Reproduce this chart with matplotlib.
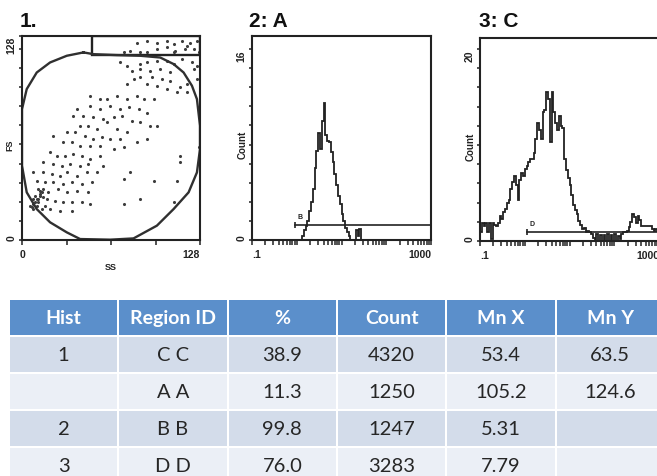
import matplotlib
matplotlib.use('Agg')

import numpy as np
import matplotlib.pyplot as plt
from matplotlib.patches import Rectangle
from matplotlib.ticker import MultipleLocator, LogLocator, NullFormatter

W, H = 657, 477
INK = '#222222'
AX_FONT = 'Liberation Sans'

# panel 1: SS / FS dot plot
ss_vals = [82.6, 89.8, 97.0, 104.2, 109.0, 115.0, 121.0, 125.8, 97.0, 104.2, 110.2, 117.4, 123.4, 89.8, 73.0, 77.8, 85.0, 109.0, 118.6, 127.0,
           70.6, 75.4, 85.0, 89.8, 97.0, 104.2, 109.0, 115.0, 122.2, 125.8, 79.0, 85.0, 92.2, 99.4, 106.6, 85.0, 93.4, 100.6, 106.6, 113.8,
           118.6, 80.2, 75.4, 89.8, 97.0, 104.2, 111.4, 118.6, 123.4, 125.8,
           49.0, 56.2, 61.0, 68.2, 75.4, 82.6, 87.4, 94.6, 49.0, 56.2, 63.4, 70.6, 76.6, 83.8, 89.8, 39.4, 37.0, 44.2, 51.4, 58.6,
           65.8, 71.8, 79.0, 85.0, 92.2, 97.0, 41.8, 47.8, 53.8, 61.0, 68.2, 75.4, 32.2, 38.2, 45.4, 51.4, 57.4, 63.4, 70.6, 82.6,
           89.8, 22.6, 29.8, 35.8, 41.8, 49.0, 56.2, 65.8, 73.0, 127.0,
           20.2, 25.0, 31.0, 37.0, 43.0, 49.0, 56.2, 15.4, 22.6, 28.6, 34.6, 41.8, 47.8, 58.6, 8.2, 15.4, 21.4, 27.4, 32.2, 39.4,
           46.6, 53.8, 77.8, 113.8, 113.8, 10.6, 16.6, 22.6, 29.8, 35.8, 43.0, 50.2, 73.0, 94.6, 111.4, 13.0, 19.0, 26.2, 32.2, 39.4,
           47.8, 85.0, 73.0, 109.0, 11.8, 17.8, 23.8, 29.8, 35.8, 20.2, 27.4, 35.8, 43.0, 49.0,
           8.2, 9.4, 10.6, 8.2, 7.0, 13.0, 14.2, 15.4, 11.8, 5.8, 9.4, 16.6, 14.2, 8.2, 10.6, 13.0, 15.4, 11.8]
fs_vals = [123.9, 125.0, 123.9, 125.0, 122.9, 125.0, 123.9, 125.0, 119.8, 120.8, 118.7, 119.8, 119.8, 117.7, 117.7, 118.7, 117.7, 117.7, 121.8, 117.7,
           111.4, 109.3, 110.4, 111.4, 112.4, 112.4, 110.4, 113.5, 111.4, 109.3, 106.2, 107.2, 106.2, 107.2, 105.1, 102.0, 102.0, 100.9, 99.9, 95.7,
           97.8, 100.9, 97.8, 97.8, 96.8, 94.7, 92.6, 92.6, 107.2, 100.9,
           90.5, 88.4, 88.4, 90.5, 88.4, 90.5, 88.4, 88.4, 84.2, 82.1, 84.2, 82.1, 83.2, 82.1, 80.0, 82.1, 78.0, 78.0, 76.9, 75.9,
           76.9, 78.0, 74.8, 73.8, 71.7, 71.7, 71.7, 71.7, 69.6, 73.8, 69.6, 67.5, 67.5, 67.5, 65.4, 63.3, 64.4, 63.3, 63.3, 61.2,
           63.3, 65.4, 61.2, 61.2, 59.1, 59.1, 59.1, 57.1, 58.1, 58.1,
           55.0, 52.9, 52.9, 53.9, 52.9, 50.8, 52.9, 48.7, 47.7, 46.6, 47.7, 46.6, 47.7, 46.6, 42.4, 42.4, 41.4, 40.3, 42.4, 40.3,
           42.4, 42.4, 42.4, 52.9, 48.7, 37.2, 36.2, 36.2, 35.1, 36.2, 35.1, 36.2, 38.2, 37.2, 37.2, 30.9, 29.9, 32.0, 29.9, 30.9,
           29.9, 25.7, 22.6, 23.6, 25.7, 25.7, 24.7, 23.6, 23.6, 19.4, 18.4, 18.4, 23.6, 22.6,
           25.7, 23.6, 21.5, 19.4, 20.5, 27.8, 29.9, 26.8, 23.6, 21.5, 27.8, 21.5, 19.4, 22.6, 25.7, 28.8, 32.0, 32.0]

# gate C outline and region A rectangle (SS, FS units)
gate_ss = [44.2, 51.4, 68.2, 85.0, 99.4, 109.0, 116.2, 122.2, 125.8, 128.0, 128.0, 125.8, 119.8, 109.0, 97.0,
           80.2, 63.4, 41.8, 32.2, 20.2, 10.6, 3.4, 0.0, 0.0, 0.0, 3.4, 10.6, 20.2, 32.2]
gate_fs = [117.7, 116.6, 116.0, 115.6, 114.5, 110.4, 105.1, 96.8, 88.4, 71.7, 57.1, 42.4, 29.9, 19.4, 9.0,
           1.0, 0.2, 0.6, 4.8, 11.1, 19.4, 29.9, 46.6, 63.3, 82.1, 94.7, 105.1, 111.4, 115.6]
region_a = (50, 116, 128, 128)

# histograms: log10 of first bin edge, bin width (decades), counts
bin_w = 0.04
hist_a_start = 0.08
hist_a_counts = [0, 0.3, 0.8, 1.2, 1.6, 2.4, 3.2, 4.3, 6.0, 7.5, 9.0, 7.6, 10.0, 11.5, 8.8, 8.3, 8.2, 7.4,
                 6.5, 5.5, 4.6, 3.7, 3.0, 2.2, 1.6, 1.0, 0.7, 0.3, 0, 0, 0, 0.8, 0.3, 0.9, 0]
hist_c_start = -1.0
hist_c_counts = [0.9, 1.9, 1.6, 1.9, 0.9, 1.9, 0.2, 1.9, 1.7, 1.6,
                 1.9, 2.6, 2.3, 3.0, 3.3, 4.0, 4.3, 5.4, 6.1, 6.8,
                 5.8, 4.3, 6.4, 7.1, 6.8, 7.5, 7.8, 8.2, 8.5, 8.5,
                 9.2, 10.6, 12.3, 11.6, 10.6, 13.4, 13.7, 15.5, 14.8, 10.3,
                 15.5, 13.4, 12.3, 11.6, 13.0, 12.0, 11.8, 8.5, 7.4, 6.6,
                 5.8, 4.8, 3.8, 3.2, 2.8, 2.1, 1.7, 1.3, 1.4, 0.9,
                 1.0, 0.9, 0.7, 0.3, 0, 0.7, 0, 0.6, 0, 0.6,
                 0, 0.7, 0, 0.6, 0, 0.7, 0, 0.5, 0.2, 0.7,
                 0.9, 0.9, 1.0, 1.5, 2.0, 2.8, 2.5, 1.9, 2.6, 2.2,
                 1.6, 1.6, 1.6, 1.6, 1.6, 1.6, 1.2, 1.0, 1.3, 1.0]
marker_b = (0.91, 1000, 1.25)
marker_d = (1.14, 1000, 0.94)

# table
col_labels = ['Hist', 'Region ID', '%', 'Count', 'Mn X', 'Mn Y']
table_rows = [
    ['1', 'C C', '38.9', '4320', '53.4', '63.5'],
    ['', 'A A', '11.3', '1250', '105.2', '124.6'],
    ['2', 'B B', '99.8', '1247', '5.31', ''],
    ['3', 'D D', '76.0', '3283', '7.79', ''],
]

fig = plt.figure(figsize=(W / 100, H / 100), dpi=100)
fig.patch.set_facecolor('white')


def px_axes(l, t, r, b):
    return fig.add_axes([l / W, 1 - b / H, (r - l) / W, (b - t) / H])


def style_axes(ax):
    for s in ax.spines.values():
        s.set_linewidth(1.5)
        s.set_color(INK)
    ax.tick_params(which='both', direction='out', color=INK, width=1.1,
                   labelsize=7.5, labelcolor=INK)
    ax.tick_params(axis='y', which='both', length=2.5, pad=1.5)
    ax.tick_params(axis='x', which='both', length=3.5, pad=3)
    for lbl in ax.get_xticklabels() + ax.get_yticklabels():
        lbl.set_fontfamily(AX_FONT)
        lbl.set_fontweight('bold')


def y_end_labels(ax, top):
    ax.set_yticks([0, top], ['0', str(top)])
    labels = ax.get_yticklabels()
    for lbl in labels:
        lbl.set_rotation(90)
    labels[0].set_va('bottom')
    labels[1].set_va('top')


# ---- panel 1 ----
ax1 = px_axes(22, 37, 200, 241)
ax1.scatter(ss_vals, fs_vals, s=5, c='#3c3c3c', linewidths=0)
ax1.plot(gate_ss + gate_ss[:1], gate_fs + gate_fs[:1], color='#303030', lw=1.7)
ax1.add_patch(Rectangle((region_a[0], region_a[1]), region_a[2] - region_a[0],
                        region_a[3] - region_a[1], fill=False, lw=1.7, ec=INK))
ax1.set_xlim(0, 128)
ax1.set_ylim(0, 128)
ax1.set_xticks([0, 32, 64, 96, 128], ['0', '', '', '', '128'])
ax1.get_xticklabels()[-1].set_ha('right')
y_end_labels(ax1, 128)
ax1.yaxis.set_minor_locator(MultipleLocator(12))
style_axes(ax1)
ax1.text(0.5, -0.13, 'SS', transform=ax1.transAxes, ha='center', va='center',
         fontsize=6.5, fontweight='bold', family=AX_FONT, color=INK)
ax1.text(-0.045, 0.47, 'FS', transform=ax1.transAxes, ha='right', va='center',
         rotation=90, fontsize=6.5, fontweight='bold', family=AX_FONT, color=INK)


# ---- histograms ----
def draw_hist(ax, start, counts, top, ymax, minor_step, marker, tag, tag_pos):
    edges = 10 ** (start + bin_w * np.arange(len(counts) + 1))
    ax.stairs(counts, edges, baseline=0, color=INK, lw=1.3)
    x0, x1, lvl = marker
    ax.plot([x0, x1], [lvl, lvl], color=INK, lw=1.2)
    ax.plot([x0], [lvl], marker='|', ms=5, mew=1.2, color=INK)
    ax.text(tag_pos[0], tag_pos[1], tag, fontsize=5, fontweight='bold',
            family=AX_FONT, color=INK, ha='center', va='center')
    ax.set_xscale('log')
    ax.set_xlim(0.1, 1000)
    ax.set_ylim(0, ymax)
    ax.set_xticks([0.1, 1, 10, 100, 1000], ['.1', '', '', '', '1000'])
    ax.xaxis.set_minor_locator(LogLocator(base=10, subs=range(2, 10)))
    ax.xaxis.set_minor_formatter(NullFormatter())
    xl = ax.get_xticklabels()
    xl[0].set_ha('left')
    xl[-1].set_ha('right')
    y_end_labels(ax, top)
    ax.yaxis.set_minor_locator(MultipleLocator(minor_step))
    style_axes(ax)
    ax.text(-0.022, 0.47, 'Count', transform=ax.transAxes, ha='right', va='center',
            rotation=90, fontsize=7, fontweight='bold', family=AX_FONT, color=INK)


ax2 = px_axes(252, 37, 431, 241)
draw_hist(ax2, hist_a_start, hist_a_counts, 16, 17.1, 1.6, marker_b, 'B', (1.17, 1.95))

ax3 = px_axes(480, 39, 659, 242)
draw_hist(ax3, hist_c_start, hist_c_counts, 20, 21.15, 2, marker_d, 'D', (1.43, 1.8))

# titles
for x, t in [(20, '1.'), (249, '2: A'), (479, '3: C')]:
    fig.text(x / W, 1 - 27 / H, t, fontsize=15, fontweight='bold', family=AX_FONT,
             va='baseline', ha='left', color='#111111')

# ---- table ----
axt = px_axes(9, 300, 665, 485)
n_cols = len(col_labels)
n_rows = len(table_rows) + 1
axt.set_xlim(0, n_cols)
axt.set_ylim(n_rows, 0)
axt.axis('off')
gx, gy = 1 / 109, 1 / 37
band_colors = ['#D3DCEA', '#EBEFF6']
for r in range(n_rows):
    fc = '#5B8FCB' if r == 0 else band_colors[(r - 1) % 2]
    for c in range(n_cols):
        axt.add_patch(Rectangle((c + gx, r + gy), 1 - 2 * gx, 1 - 2 * gy, fc=fc, ec='none'))
for c, lab in enumerate(col_labels):
    axt.text(c + 0.5, 0.5, lab, ha='center', va='center', fontsize=14,
             fontweight='bold', family='Lato', color='white')
for r, row in enumerate(table_rows, start=1):
    for c, val in enumerate(row):
        axt.text(c + 0.5, r + 0.5, val, ha='center', va='center', fontsize=14.5,
                 family='Lato', color='#262626')

fig.savefig('out.png', dpi=100, facecolor='white')
plt.close(fig)
